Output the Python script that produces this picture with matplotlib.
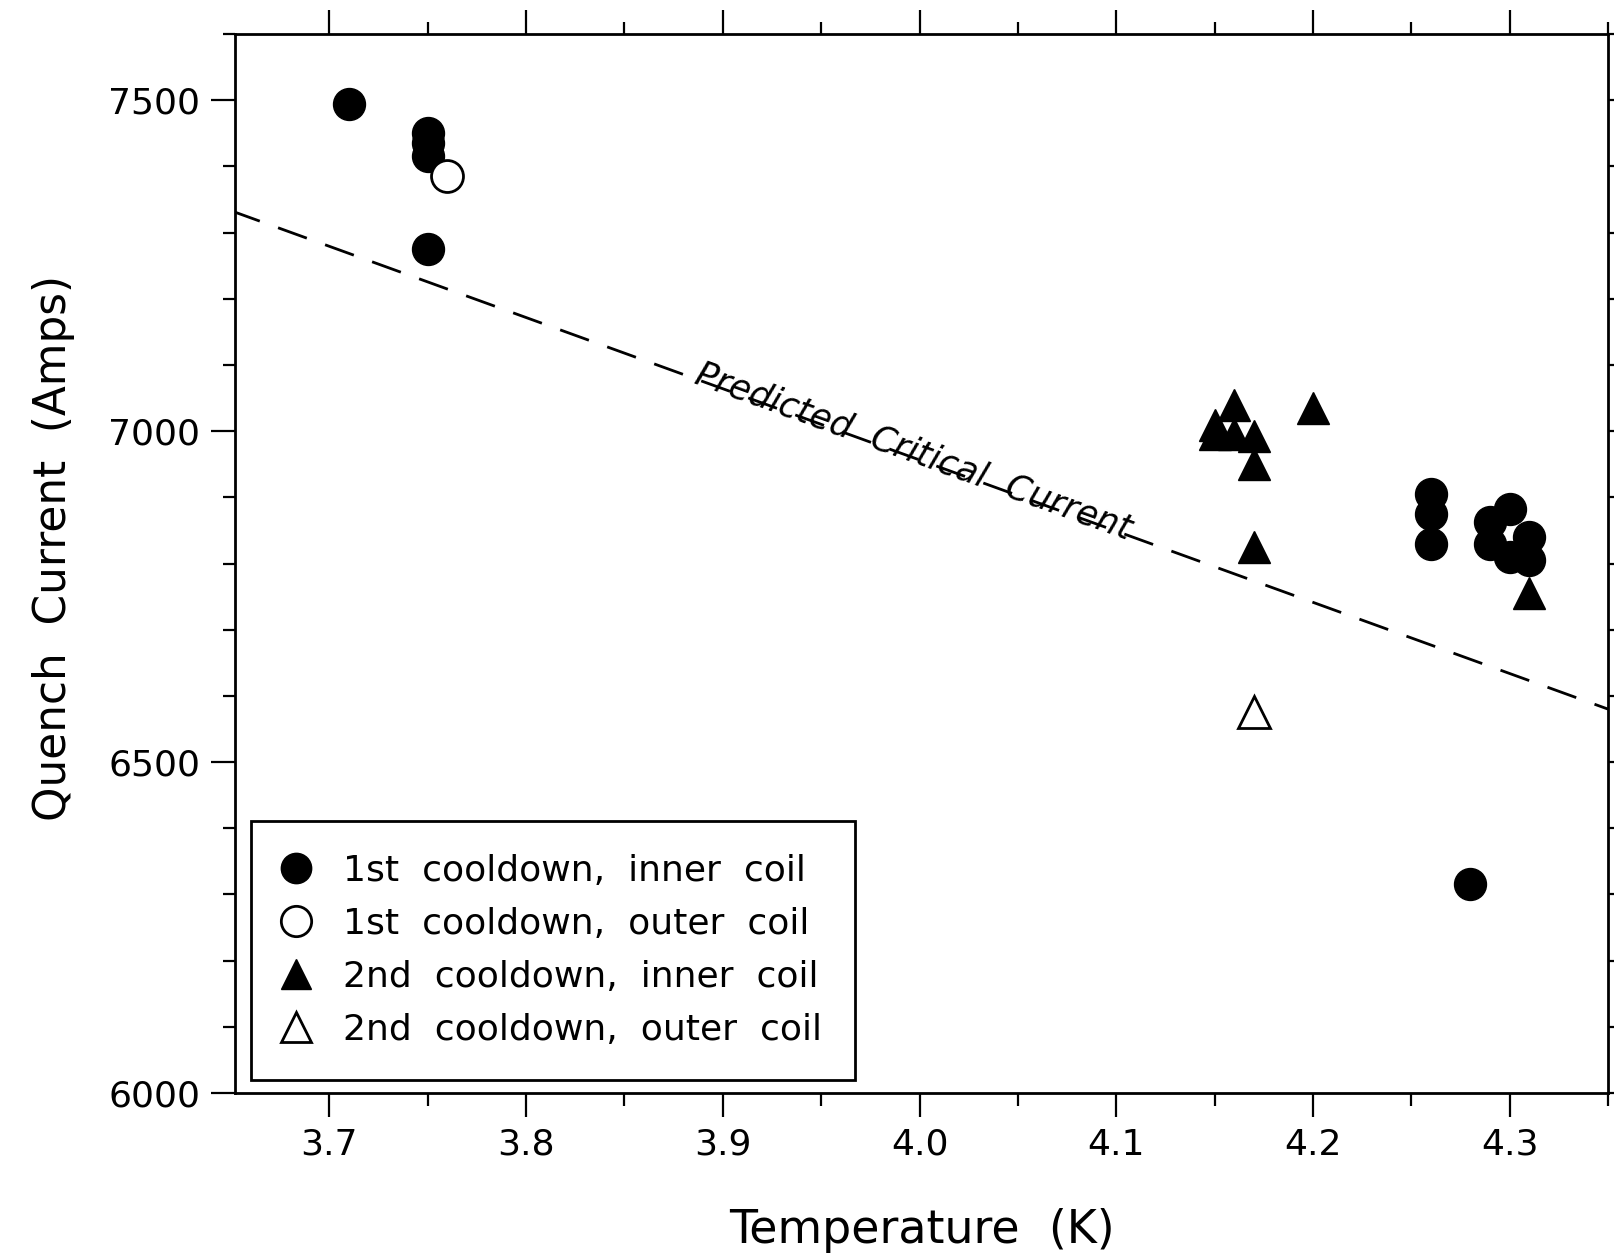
import numpy as np
import matplotlib
matplotlib.use("Agg")
import matplotlib.pyplot as plt
from matplotlib.ticker import MultipleLocator

# 1st cooldown
inner1_T = [3.71, 3.75, 3.75, 3.75, 3.75, 4.26, 4.26, 4.26, 4.28,
            4.29, 4.29, 4.30, 4.30, 4.31, 4.31]
inner1_I = [7495, 7450, 7435, 7415, 7275, 6905, 6875, 6830, 6315,
            6862, 6830, 6882, 6810, 6840, 6805]
outer1_T = [3.76]
outer1_I = [7385]

# 2nd cooldown
inner2_T = [4.15, 4.15, 4.16, 4.16, 4.17, 4.17, 4.17, 4.20, 4.31]
inner2_I = [7010, 6995, 7040, 6995, 6993, 6950, 6825, 7035, 6755]
outer2_T = [4.17]
outer2_I = [6575]

# predicted critical current
crit_T = [3.65, 4.35]
crit_I = [7333, 6580]

plt.rcParams['font.family'] = ['DejaVu Sans']

fig = plt.figure(figsize=(16.14, 12.56), dpi=100)
ax = fig.add_axes([0.1456, 0.1298, 0.8507, 0.8431])

ms = 23
ax.plot(crit_T, crit_I, color='black', lw=2, dashes=(11, 7))
ax.plot(inner1_T, inner1_I, 'o', ms=ms, color='black', ls='none',
        label='1st  cooldown,  inner  coil')
ax.plot(outer1_T, outer1_I, 'o', ms=ms, mfc='white', mec='black', mew=2,
        ls='none', label='1st  cooldown,  outer  coil')
ax.plot(inner2_T, inner2_I, '^', ms=ms, color='black', ls='none',
        label='2nd  cooldown,  inner  coil')
ax.plot(outer2_T, outer2_I, '^', ms=ms, mfc='white', mec='black', mew=2,
        ls='none', label='2nd  cooldown,  outer  coil')

ax.set_xlim(3.652, 4.350)
ax.set_ylim(6000, 7600)

slope = (crit_I[1] - crit_I[0]) / (crit_T[1] - crit_T[0])
tx = 3.997
ty = crit_I[0] + slope * (tx - crit_T[0]) + 10
ang = np.degrees(np.arctan2(slope, 1.0))
ax.text(tx, ty, 'Predicted  Critical  Current', fontsize=25, style='italic',
        ha='center', va='center', rotation=ang, rotation_mode='anchor',
        transform_rotates_text=True)

ax.xaxis.set_major_locator(MultipleLocator(0.1))
ax.xaxis.set_minor_locator(MultipleLocator(0.05))
ax.yaxis.set_major_locator(MultipleLocator(500))
ax.yaxis.set_minor_locator(MultipleLocator(100))
ax.tick_params(which='both', direction='out', top=True, right=True,
               width=1.6, labelsize=26)
ax.tick_params(which='major', length=17, pad=8)
ax.tick_params(which='minor', length=9)
for s in ax.spines.values():
    s.set_linewidth(2)

ax.set_xlabel('Temperature  (K)', fontsize=33, labelpad=33)
ax.set_ylabel('Quench  Current  (Amps)', fontsize=31.5, labelpad=24, y=0.515)

leg = ax.legend(loc='lower left', bbox_to_anchor=(0.012, 0.0126),
                fontsize=26, frameon=True, fancybox=False, framealpha=1,
                edgecolor='black', borderaxespad=0, handletextpad=0.98,
                labelspacing=0.53, borderpad=0.9, handlelength=0.66,
                markerscale=0.95)
leg.get_frame().set_linewidth(2)

fig.savefig('out.png', dpi=100)
